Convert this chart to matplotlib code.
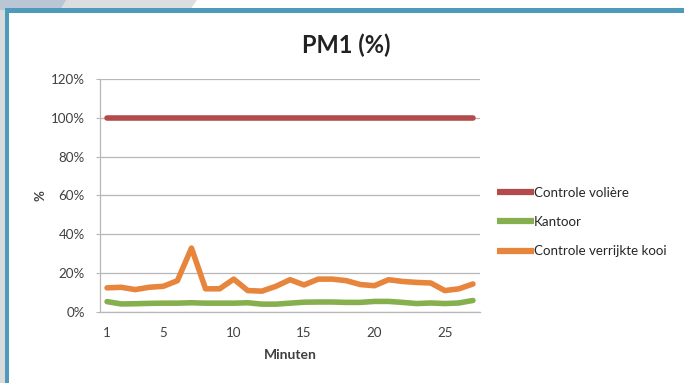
import matplotlib.pyplot as plt
from matplotlib.patches import Rectangle, Polygon

plt.rcParams['font.family'] = ['Lato', 'DejaVu Sans']

minutes = list(range(1, 28))
volière = [100] * 27
kantoor = [5.2, 4.0, 4.1, 4.3, 4.4, 4.4, 4.6, 4.4, 4.4, 4.4, 4.6, 3.9, 3.9, 4.4,
           4.9, 5.0, 5.0, 4.8, 4.8, 5.3, 5.3, 4.8, 4.2, 4.5, 4.2, 4.5, 5.8]
verrijkt = [12.3, 12.6, 11.4, 12.6, 13.1, 16.0, 32.8, 11.8, 11.8, 16.8, 10.9, 10.6,
            13.1, 16.5, 13.8, 16.8, 16.8, 16.0, 14.0, 13.4, 16.5, 15.6, 15.1, 14.8,
            10.9, 11.8, 14.3]
series_names = ['Controle volière', 'Kantoor', 'Controle verrijkte kooi']
colors = ['#b34a4b', '#86b04e', '#e8853d']
xticks = [1, 5, 10, 15, 20, 25]
yticks = [0, 20, 40, 60, 80, 100, 120]

fig = plt.figure(figsize=(6.84, 3.83), dpi=100)
fig.patch.set_facecolor('white')

# slide background bits around the frame
fig.patches.append(Rectangle((0, 0), 5 / 684, 1, transform=fig.transFigure,
                             facecolor='#d9dadc', edgecolor='none', zorder=0))
fig.patches.append(Polygon([(0, 1), (197 / 684, 1), (190 / 684, 1 - 10 / 383), (0, 1 - 10 / 383)],
                           closed=True, transform=fig.transFigure,
                           facecolor='#dcdddf', edgecolor='none', zorder=0))
fig.patches.append(Polygon([(0, 1), (66 / 684, 1), (60 / 684, 1 - 10 / 383), (0, 1 - 10 / 383), (0, 0.6)],
                           closed=True, transform=fig.transFigure,
                           facecolor='#b8c7d3', edgecolor='none', zorder=0))
fig.patches.append(Rectangle((5 / 684, 1 - 12.5 / 383), 1, 4 / 383, transform=fig.transFigure,
                             facecolor='#4e9aba', edgecolor='none', zorder=1))
fig.patches.append(Rectangle((5 / 684, 0), 4 / 684, 1 - 8.5 / 383, transform=fig.transFigure,
                             facecolor='#4e9aba', edgecolor='none', zorder=1))

ax = fig.add_axes([100 / 684, 71.3 / 383, 380 / 684, 232.7 / 383])
for vals, name, c in zip([volière, kantoor, verrijkt], series_names, colors):
    ax.plot(minutes, vals, color=c, lw=4, solid_capstyle='round',
            solid_joinstyle='round', label=name)

ax.set_xlim(0.5, 27.5)
ax.set_ylim(0, 120)
ax.set_xticks(xticks)
ax.set_yticks(yticks)
ax.set_yticklabels([f'{v}%' for v in yticks])
ax.grid(axis='y', color='#b7b7b7', lw=0.9)
ax.set_axisbelow(True)
for s in ['top', 'right']:
    ax.spines[s].set_visible(False)
for s in ['left', 'bottom']:
    ax.spines[s].set_color('#b7b7b7')
    ax.spines[s].set_linewidth(0.9)
ax.tick_params(axis='x', length=0, pad=11, labelsize=9.6, labelcolor='#404040')
ax.tick_params(axis='y', length=3, color='#b7b7b7', pad=8, labelsize=9.6, labelcolor='#404040')

ax.set_xlabel('Minuten', fontsize=10, fontweight='bold', color='#404040', labelpad=7)
ax.set_ylabel('%', fontsize=9.6, fontweight='bold', color='#404040', labelpad=3)
fig.text(346 / 684, 1 - 45 / 383, 'PM1 (%)', ha='center', va='center',
         fontsize=17, fontweight='bold', color='#222222')

leg = ax.legend(loc='center left', bbox_to_anchor=(1.045, 0.385), frameon=False,
                fontsize=9.6, handlelength=2.75, handletextpad=0.0,
                labelspacing=1.3, borderaxespad=0, borderpad=0)
for t in leg.get_texts():
    t.set_color('#262626')
for h in leg.get_lines():
    h.set_linewidth(4.5)
    h.set_solid_capstyle('butt')

fig.savefig('out.png', dpi=100)
